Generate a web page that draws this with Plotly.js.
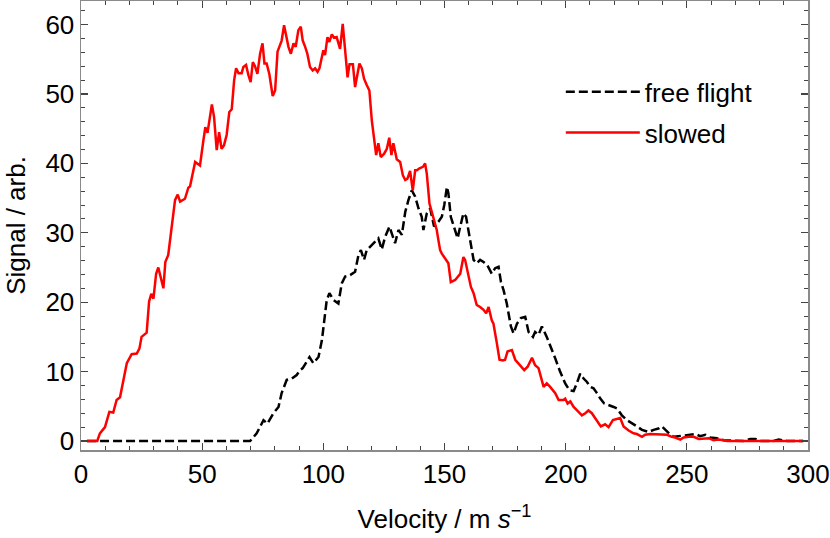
<!DOCTYPE html>
<html>
<head>
<meta charset="utf-8">
<script src="https://cdn.plot.ly/plotly-3.0.1.min.js"></script>
<style>
  html, body { margin: 0; padding: 0; background: #fff; }
  #chart { width: 830px; height: 538px; }
</style>
</head>
<body>
<div id="chart"></div>
<script>
// Velocity distributions (m/s)

const freeFlightV = [2.5, 69.8, 72.5, 75.3, 76.9, 79.4, 81.5, 82.8, 84.9, 87.0, 89.0, 90.4, 91.5, 92.9, 94.3, 95.9, 98.0, 99.4,
  100.3, 101.4, 102.5, 104.2, 106.2, 107.6, 109.0, 111.1, 113.1, 114.5, 115.5, 116.8, 117.9, 119.3, 121.4, 122.7, 124.1,
  125.5, 127.3, 129.6, 131.0, 132.4, 133.8, 135.1, 136.5, 137.9, 139.3, 140.6, 141.3, 142.7, 144.1, 145.7, 147.5, 148.9,
  149.9, 151.0, 151.6, 152.6, 153.7, 155.4, 156.5, 157.8, 158.9, 159.9, 160.9, 162.0, 163.3, 164.7, 166.1, 167.7, 169.5,
  170.9, 172.3, 173.3, 174.4, 175.7, 177.4, 178.5, 179.9, 181.5, 183.3, 184.7, 186.5, 187.4, 188.8, 190.2, 192.2, 193.6,
  195.7, 197.7, 199.8, 201.6, 203.3, 204.6, 206.0, 207.4, 208.8, 210.1, 211.5, 212.9, 214.3, 215.9, 217.7, 219.8, 221.1,
  223.2, 225.3, 227.3, 229.4, 231.5, 234.2, 236.3, 238.3, 239.7, 241.1, 243.2, 244.5, 246.6, 248.7, 251.4, 253.5, 255.5,
  257.6, 259.7, 262.4, 265.2, 267.9, 273.4, 276.2, 278.2, 280.3, 285.8, 287.9, 289.3, 291.3, 298];
const freeFlightSignal = [0, 0, 1.1, 3.0, 2.5, 4.0, 4.9, 6.9, 8.8, 9.0, 9.5, 10.2, 10.5, 11.4, 12.1, 11.2, 12.1, 14.5,
  17.4, 20.3, 21.3, 20.3, 19.8, 22.7, 23.7, 23.9, 24.4, 26.8, 27.5, 26.1, 27.5, 28.0, 28.7, 29.2, 27.6,
  29.4, 30.9, 28.5, 30.4, 29.7, 33.0, 34.7, 36.1, 35.2, 33.5, 32.3, 30.4, 32.8, 33.5, 30.9, 31.6, 32.3,
  34.0, 36.6, 35.7, 32.3, 31.1, 29.2, 30.9, 32.8, 32.3, 30.4, 28.0, 26.1, 25.6, 26.1, 25.8, 25.3, 24.1,
  24.9, 25.1, 22.9, 21.7, 19.8, 16.5, 15.5, 16.9, 17.7, 17.9, 15.7, 15.0, 15.7, 15.3, 16.5, 15.0, 13.8,
  11.9, 10.0, 8.3, 7.3, 7.2, 8.3, 9.7, 9.0, 8.5, 7.8, 7.6, 6.9, 6.1, 5.4, 5.2, 4.9, 4.7,
  3.7, 3.0, 2.5, 2.1, 1.6, 1.3, 1.6, 1.8, 2.1, 1.6, 0.9, 0.6, 0.7, 0.8, 0.9, 1.0, 0.7,
  0.9, 0.5, 0.4, 0.1, 0.1, 0, 0.3, 0.3, 0, 0, 0.2, 0.1, 0, 0];

const slowedV = [2.5, 6.7, 7.8, 9.9, 11.7, 13.3, 14.7, 16.1, 18.9, 20.9, 23.0, 24.1, 25.0, 27.1, 28.1, 29.0, 29.9, 31.0,
  31.9, 34.0, 34.8, 36.0, 38.8, 39.9, 40.9, 42.9, 44.3, 45.0, 47.1, 49.1, 50.5, 51.3, 52.2, 54.0, 54.9, 56.0, 57.0,
  58.0, 59.0, 60.1, 61.2, 62.2, 63.2, 64.0, 65.0, 66.3, 67.0, 68.1, 69.1, 70.0, 70.9, 71.8, 72.8, 73.9, 74.9, 75.7,
  76.6, 77.7, 79.1, 80.1, 81.1, 81.9, 82.8, 83.8, 84.6, 85.6, 86.6, 87.7, 88.6, 89.7, 90.7, 91.5, 92.5, 93.4, 94.5,
  95.6, 96.6, 97.6, 98.4, 99.4, 100.0, 100.7, 101.7, 102.5, 103.5, 104.4, 105.5, 106.9, 108.0, 109.0, 110.0, 110.8,
  112.2, 113.1, 114.9, 115.9, 116.8, 117.9, 119.0, 120.0, 121.0, 121.8, 122.7, 123.7, 125.1, 126.2, 127.2, 128.1,
  128.9, 130.3, 131.7, 132.8, 133.8, 134.7, 135.8, 136.9, 137.9, 138.6, 139.7, 141.1, 142.0, 142.7, 143.8, 144.8,
  145.5, 146.8, 147.5, 148.2, 148.9, 150.3, 151.6, 152.6, 154.4, 156.5, 157.8, 158.5, 159.9, 160.9, 162.0, 163.3,
  164.7, 166.1, 167.2, 168.2, 169.5, 170.2, 171.6, 172.7, 174.1, 175.0, 176.0, 177.8, 179.2, 180.5, 182.9, 184.3,
  186.1, 187.4, 188.8, 190.9, 192.2, 193.6, 195.7, 197.1, 199.1, 199.8, 200.8, 201.9, 203.3, 205.3, 206.7, 208.1,
  209.4, 210.8, 212.9, 214.5, 216.3, 217.7, 219.5, 220.9, 222.5, 223.9, 226.0, 228.0, 229.4, 231.5, 232.8, 234.9,
  237.0, 239.7, 241.8, 243.8, 245.2, 247.3, 248.7, 250.7, 252.8, 254.9, 256.9, 259.0, 261.0, 263.1, 265.2, 266.6, 298];
const slowedSignal = [0, 0, 1.1, 2.0, 4.2, 4.1, 5.9, 6.3, 11.2, 12.5, 12.6, 13.3, 15.0, 15.6, 20.1, 21.2, 20.5, 24.1,
  25.0, 22.0, 25.8, 26.8, 34.7, 35.5, 34.5, 34.9, 36.5, 36.7, 40.2, 39.7, 43.3, 45.2, 44.4, 48.5, 46.7, 41.9, 44.5,
  42.1, 42.6, 44.1, 47.4, 47.8, 52.0, 53.7, 53.0, 53.0, 53.9, 54.2, 52.7, 51.7, 54.6, 54.0, 52.9, 55.8, 57.3, 54.4,
  54.4, 52.9, 49.7, 50.5, 56.1, 56.8, 57.7, 59.9, 58.7, 56.8, 55.8, 57.3, 56.8, 59.2, 59.7, 57.7, 56.8, 55.8, 53.9,
  53.4, 53.7, 53.2, 53.7, 55.1, 56.3, 55.6, 58.2, 57.5, 58.6, 58.1, 58.2, 56.5, 60.1, 56.3, 52.4, 54.3,
  54.3, 51.0, 54.4, 53.7, 52.2, 51.3, 50.5, 46.2, 43.8, 41.2, 42.9, 40.9, 41.4, 42.1, 43.7, 41.2,
  42.9, 40.6, 40.2, 38.3, 37.6, 37.8, 38.9, 36.1, 39.0, 39.0, 39.3, 39.5, 40.0, 38.5, 34.2, 33.0,
  32.3, 30.4, 28.9, 27.5, 27.0, 26.3, 25.6, 22.9, 23.2, 24.1, 26.5, 26.1, 23.7, 22.2, 21.3, 19.6,
  19.3, 18.9, 18.4, 19.3, 17.4, 16.9, 14.1, 11.7, 11.6, 11.7, 12.9, 13.1, 11.7, 11.2, 10.2, 10.7,
  12.0, 10.9, 10.5, 7.8, 8.3, 7.8, 6.9, 5.9, 5.9, 6.1, 5.4, 5.7, 4.9, 4.2, 3.7, 4.0,
  4.4, 4.0, 3.0, 2.1, 2.4, 2.0, 3.0, 3.1, 3.3, 2.1, 1.5, 1.1, 1.0, 0.6, 0.9, 1.0,
  1.0, 1.0, 0.9, 0.6, 0.5, 0.2, 0.5, 0.6, 0.6, 0.3, 0.4, 0.4, 0.1, 0.2, 0.1, 0, 0];

const seriesNames = ['free flight', 'slowed'];
const xTitle = 'Velocity / m <i>s</i><sup>\u22121</sup>';
const yTitle = 'Signal / arb.';

const FONT = 'Liberation Sans, Arial, sans-serif';
const FS = 26;

const traces = [
  {
    x: freeFlightV, y: freeFlightSignal,
    type: 'scatter', mode: 'lines',
    name: seriesNames[0], legendgroup: 'a',
    line: { color: '#000000', width: 2.5, dash: '9px,4px' }
  },
  {
    x: slowedV, y: slowedSignal,
    type: 'scatter', mode: 'lines',
    name: seriesNames[1], legendgroup: 'b',
    line: { color: '#ff0000', width: 2.5 }
  }
];

const axisCommon = {
  showline: true,
  mirror: 'ticks',
  linecolor: '#8a8a8a',
  linewidth: 1.5,
  ticks: 'inside',
  ticklen: 7,
  tickwidth: 1.2,
  tickcolor: '#444',
  showgrid: false,
  zeroline: false,
  tickfont: { family: FONT, size: FS, color: '#000' }
};

const layout = {
  width: 830,
  height: 538,
  margin: { l: 81, r: 22, t: 1, b: 88 },
  paper_bgcolor: '#fff',
  plot_bgcolor: '#fff',
  font: { family: FONT, color: '#000' },
  xaxis: Object.assign({}, axisCommon, {
    range: [0, 300],
    tick0: 0, dtick: 50,
    minor: { dtick: 10, ticks: 'inside', ticklen: 4, tickcolor: '#444', tickwidth: 1 },
    title: { text: xTitle, font: { family: FONT, size: FS }, standoff: 22 }
  }),
  yaxis: Object.assign({}, axisCommon, {
    range: [-1.3, 63.4],
    tick0: 0, dtick: 10,
    minor: { dtick: 2, ticks: 'inside', ticklen: 4, tickcolor: '#444', tickwidth: 1 },
    title: { text: yTitle, font: { family: FONT, size: FS }, standoff: 12 }
  }),
  showlegend: true,
  legend: {
    x: 0.66, y: 0.85,
    xanchor: 'left', yanchor: 'top',
    bgcolor: 'rgba(0,0,0,0)',
    font: { family: FONT, size: FS, color: '#000' },
    itemwidth: 74,
    traceorder: 'grouped',
    tracegroupgap: 4
  }
};

Plotly.newPlot('chart', traces, layout, { displayModeBar: false, staticPlot: true });
</script>
</body>
</html>
